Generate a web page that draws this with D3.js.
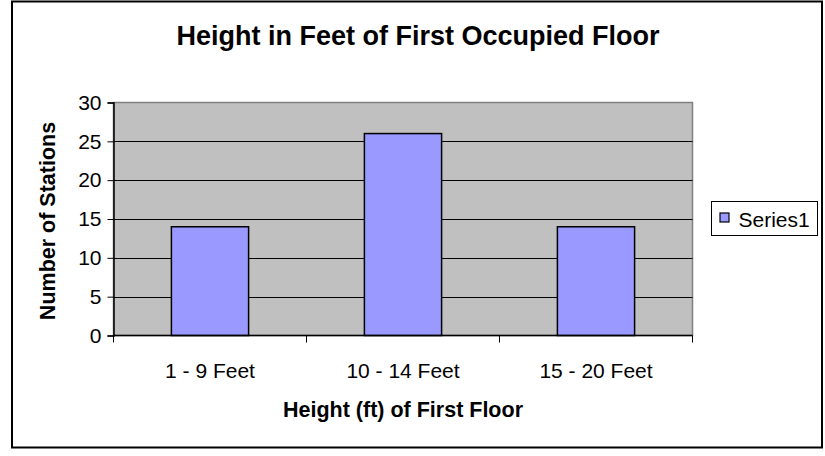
<!DOCTYPE html>
<html>
<head>
<meta charset="utf-8">
<script src="https://cdn.jsdelivr.net/npm/d3@7"></script>
<style>
  html, body { margin: 0; padding: 0; background: #fff; }
  svg { display: block; font-family: "Liberation Sans", Arial, sans-serif; }
</style>
</head>
<body>
<svg id="chart" width="825" height="456"></svg>
<script>
// Stations grouped by height of the first occupied floor
const categories = ["1 - 9 Feet", "10 - 14 Feet", "15 - 20 Feet"];
const stations = [14, 26, 14];
const yTicks = [0, 5, 10, 15, 20, 25, 30];
const seriesName = "Series1";

const svg = d3.select("#chart");

// outer chart frame
svg.append("rect")
  .attr("x", 12).attr("y", 1.5)
  .attr("width", 810).attr("height", 446)
  .attr("fill", "#fff").attr("stroke", "#000").attr("stroke-width", 2);

const plot = { left: 113.5, right: 692.5, top: 102.5, bottom: 335.5 };

const x = d3.scaleBand()
  .domain(categories)
  .range([plot.left, plot.right])
  .paddingInner(0.6).paddingOuter(0.3);

const xEdges = d3.scaleBand().domain(categories).range([plot.left, plot.right]).padding(0);

const y = d3.scaleLinear().domain([0, 30]).range([plot.bottom, plot.top]);

// plot area
svg.append("rect")
  .attr("x", plot.left).attr("y", plot.top)
  .attr("width", plot.right - plot.left).attr("height", plot.bottom - plot.top)
  .attr("fill", "#c0c0c0").attr("stroke", "#808080").attr("stroke-width", 1.5);

// horizontal gridlines
svg.append("g").selectAll("line")
  .data(yTicks.filter(t => t > 0 && t < 30))
  .join("line")
  .attr("x1", plot.left).attr("x2", plot.right)
  .attr("y1", d => Math.round(y(d)) + 0.5).attr("y2", d => Math.round(y(d)) + 0.5)
  .attr("stroke", "#000").attr("stroke-width", 1);

// bars
svg.append("g").selectAll("rect")
  .data(stations)
  .join("rect")
  .attr("x", (d, i) => x(categories[i]))
  .attr("y", d => y(d))
  .attr("width", x.bandwidth())
  .attr("height", d => y(0) - y(d))
  .attr("fill", "#9999ff").attr("stroke", "#000").attr("stroke-width", 1.5);

// y axis
const yAxis = d3.axisLeft(y).tickValues(yTicks).tickSize(6).tickPadding(6);
const gy = svg.append("g").attr("transform", `translate(${plot.left},0)`).call(yAxis);
gy.select(".domain").attr("stroke", "#000").attr("stroke-width", 1.5);
gy.selectAll(".tick line").attr("stroke", "#000");
gy.selectAll("text").attr("font-size", 21).attr("fill", "#000")
  .attr("font-family", "Liberation Sans, Arial, sans-serif");

// x axis with ticks between categories
const gx = svg.append("g").attr("transform", `translate(0,${plot.bottom})`);
gx.append("line")
  .attr("x1", plot.left).attr("x2", plot.right)
  .attr("stroke", "#000").attr("stroke-width", 1.5);
const edges = categories.map(c => xEdges(c)).concat([plot.right]);
gx.selectAll("line.edge").data(edges).join("line").attr("class", "edge")
  .attr("x1", d => d).attr("x2", d => d).attr("y1", 0).attr("y2", 7)
  .attr("stroke", "#000");
gx.selectAll("text").data(categories).join("text")
  .attr("x", d => xEdges(d) + xEdges.bandwidth() / 2)
  .attr("y", 42)
  .attr("text-anchor", "middle")
  .attr("font-size", 21)
  .text(d => d);

// titles
svg.append("text")
  .attr("x", 418).attr("y", 45)
  .attr("text-anchor", "middle")
  .attr("font-size", 27).attr("font-weight", "bold")
  .text("Height in Feet of First Occupied Floor");

svg.append("text")
  .attr("x", (plot.left + plot.right) / 2).attr("y", 417)
  .attr("text-anchor", "middle")
  .attr("font-size", 21.5).attr("font-weight", "bold")
  .text("Height (ft) of First Floor");

svg.append("text")
  .attr("transform", `translate(55,${(plot.top + plot.bottom) / 2 + 2}) rotate(-90)`)
  .attr("text-anchor", "middle")
  .attr("font-size", 21.5).attr("font-weight", "bold")
  .text("Number of Stations");

// legend
const lg = svg.append("g").attr("transform", "translate(711.5,201.5)");
lg.append("rect").attr("width", 106).attr("height", 34)
  .attr("fill", "#fff").attr("stroke", "#000").attr("stroke-width", 1);
lg.append("rect").attr("x", 8.5).attr("y", 11.5).attr("width", 9).attr("height", 9)
  .attr("fill", "#9999ff").attr("stroke", "#000").attr("stroke-width", 1.2);
lg.append("text").attr("x", 27).attr("y", 25)
  .attr("font-size", 21)
  .text(seriesName);
</script>
</body>
</html>
